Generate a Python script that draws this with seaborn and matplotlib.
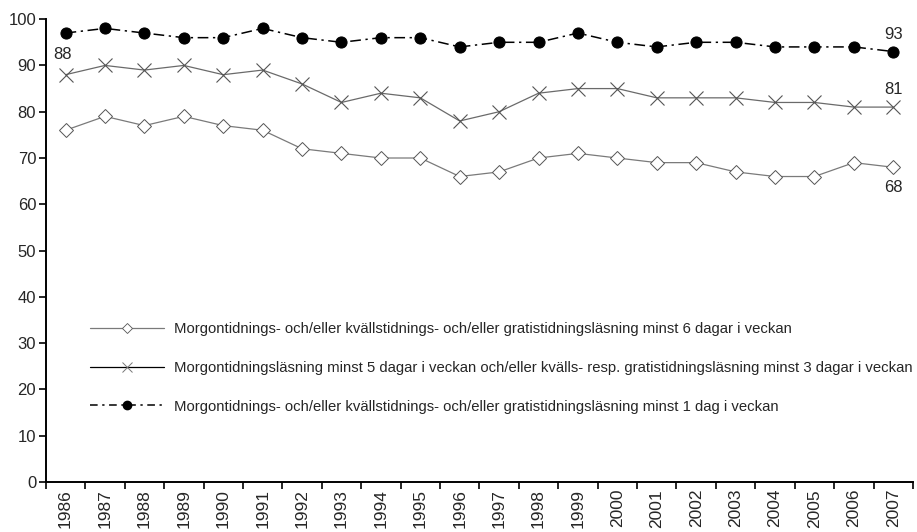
import numpy as np
import matplotlib
matplotlib.use('Agg')
import matplotlib.pyplot as plt
from matplotlib.lines import Line2D
import pandas as pd
import seaborn as sns

years = list(range(1986, 2008))
minst6 = [76, 79, 77, 79, 77, 76, 72, 71, 70, 70, 66, 67, 70, 71, 70, 69, 69, 67, 66, 66, 69, 68]
minst5 = [88, 90, 89, 90, 88, 89, 86, 82, 84, 83, 78, 80, 84, 85, 85, 83, 83, 83, 82, 82, 81, 81]
minst1 = [97, 98, 97, 96, 96, 98, 96, 95, 96, 96, 94, 95, 95, 97, 95, 94, 95, 95, 94, 94, 94, 93]

labels = ['Morgontidnings- och/eller kvällstidnings- och/eller gratistidningsläsning minst 6 dagar i veckan',
          'Morgontidningsläsning minst 5 dagar i veckan och/eller kvälls- resp. gratistidningsläsning minst 3 dagar i veckan',
          'Morgontidnings- och/eller kvällstidnings- och/eller gratistidningsläsning minst 1 dag i veckan']

sns.set_style('ticks')
plt.rcParams['font.family'] = ['Liberation Sans', 'DejaVu Sans']

df = pd.DataFrame({'pos': np.arange(len(years)), 'year': years,
                   's6': minst6, 's5': minst5, 's1': minst1})

fig = plt.figure(figsize=(9.17, 5.32), dpi=100)
ax = fig.add_axes([0.050, 0.094, 0.9456, 0.870])

dashdot = (0, (7, 3, 1.5, 3))
sns.lineplot(data=df, x='pos', y='s6', ax=ax, color='#7a7a7a', lw=0.9,
             marker='D', markersize=7.5, markerfacecolor='white',
             markeredgecolor='#555555', markeredgewidth=0.7, legend=False)
sns.lineplot(data=df, x='pos', y='s5', ax=ax, color='#6a6a6a', lw=0.9,
             marker='x', markersize=10, markeredgecolor='#555555',
             markeredgewidth=0.8, legend=False)
sns.lineplot(data=df, x='pos', y='s1', ax=ax, color='black', lw=1.1,
             linestyle=dashdot, marker='o', markersize=8,
             markerfacecolor='black', markeredgecolor='black', legend=False)

ax.set_xlim(-0.5, len(years) - 0.5)
ax.set_ylim(0, 100)
ax.set_yticks(range(0, 101, 10))
ax.set_xticks(np.arange(-0.5, len(years), 1.0))
ax.set_xticklabels([])
ax.set_xticks(np.arange(len(years)), minor=True)
ax.set_xticklabels([str(y) for y in years], minor=True, rotation=90, fontsize=12.5)
ax.tick_params(axis='x', which='minor', length=0, pad=5)
ax.tick_params(axis='x', which='major', length=5, width=1.2, direction='out', color='black')
ax.tick_params(axis='y', length=5, width=1.2, direction='out', color='black', labelsize=12, pad=2)
ax.set_xlabel('')
ax.set_ylabel('')
for s in ['top', 'right']:
    ax.spines[s].set_visible(False)
for s in ['left', 'bottom']:
    ax.spines[s].set_linewidth(1.4)
    ax.spines[s].set_color('black')

# data labels at the first and last points
last = len(years) - 1
ax.annotate(str(minst5[0]), (0, minst5[0]), xytext=(-2, 9), textcoords='offset points',
            ha='center', va='bottom', fontsize=12)
ax.annotate(str(minst1[-1]), (last, minst1[-1]), xytext=(0, 7), textcoords='offset points',
            ha='center', va='bottom', fontsize=12)
ax.annotate(str(minst5[-1]), (last, minst5[-1]), xytext=(0, 7), textcoords='offset points',
            ha='center', va='bottom', fontsize=12)
ax.annotate(str(minst6[-1]), (last, minst6[-1]), xytext=(0, -9), textcoords='offset points',
            ha='center', va='top', fontsize=12)

handles = [
    Line2D([], [], color='#7a7a7a', lw=0.9, marker='D', markersize=5,
           markerfacecolor='white', markeredgecolor='#555555', markeredgewidth=0.6),
    Line2D([], [], color='black', lw=0.9, marker='x', markersize=7,
           markeredgecolor='#777777', markeredgewidth=0.7),
    Line2D([], [], color='black', lw=1.1, linestyle=(0, (5, 3, 1.5, 3)), marker='o',
           markersize=6, markerfacecolor='black', markeredgecolor='black'),
]
ax.legend(handles, labels, loc='upper left', bbox_to_anchor=(0.0507, 0.345),
          frameon=False, fontsize=10.7, handlelength=5.0, labelspacing=1.66,
          handletextpad=0.67, borderpad=0, borderaxespad=0)

fig.savefig('out.png', dpi=100)
